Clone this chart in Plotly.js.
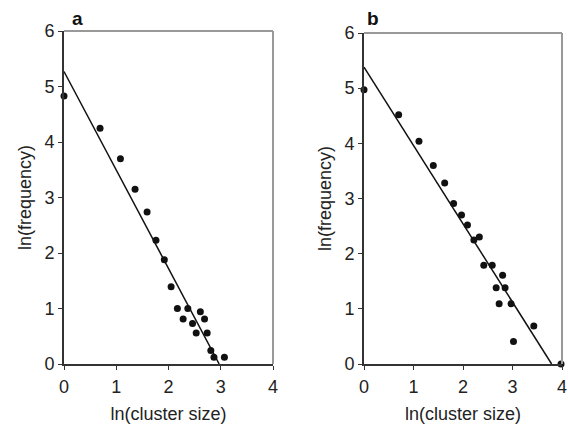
<!DOCTYPE html>
<html>
<head>
<meta charset="utf-8">
<script src="https://cdn.plot.ly/plotly-3.0.1.min.js"></script>
<style>html,body{margin:0;padding:0;background:#fff;}#chart{width:568px;height:424px;}</style>
</head>
<body>
<div id="chart"></div>
<script>
// Panel a data: ln(cluster size) vs ln(frequency)
const aX = [0, 0.69, 1.08, 1.36, 1.59, 1.76, 1.92, 2.05, 2.17, 2.28, 2.37, 2.46, 2.53, 2.61, 2.69, 2.74, 2.81, 2.87, 3.07];
const aY = [4.83, 4.25, 3.70, 3.15, 2.74, 2.23, 1.88, 1.39, 1.00, 0.81, 1.00, 0.73, 0.56, 0.94, 0.81, 0.56, 0.245, 0.12, 0.12];
// Panel a fitted line endpoints
const aFitX = [0, 2.97];
const aFitY = [5.27, 0];

// Panel b data
const bX = [0, 0.70, 1.11, 1.40, 1.63, 1.81, 1.97, 2.09, 2.22, 2.33, 2.42, 2.59, 2.80, 2.67, 2.85, 2.73, 2.97, 3.02, 3.43, 3.98];
const bY = [4.97, 4.52, 4.04, 3.60, 3.28, 2.91, 2.70, 2.52, 2.25, 2.30, 1.79, 1.79, 1.61, 1.38, 1.38, 1.09, 1.09, 0.41, 0.69, 0];
const bFitX = [0, 3.79];
const bFitY = [5.38, 0];

const panelLabels = ['a', 'b'];
const xTitle = 'ln(cluster size)';
const yTitle = 'ln(frequency)';

const W = 568, H = 424;
const FONT = 'Liberation Sans, Arial, Helvetica, sans-serif';

const markerStyle = {color: '#111', size: 7};
const lineStyle = {color: '#111', width: 1.5};

const traces = [
  {x: aFitX, y: aFitY, mode: 'lines', line: lineStyle, xaxis: 'x', yaxis: 'y', cliponaxis: false, hoverinfo: 'skip'},
  {x: aX, y: aY, mode: 'markers', marker: markerStyle, xaxis: 'x', yaxis: 'y', cliponaxis: false},
  {x: bFitX, y: bFitY, mode: 'lines', line: lineStyle, xaxis: 'x2', yaxis: 'y2', cliponaxis: false, hoverinfo: 'skip'},
  {x: bX, y: bY, mode: 'markers', marker: markerStyle, xaxis: 'x2', yaxis: 'y2', cliponaxis: false}
];

function xax(domain, anchor) {
  return {
    domain: domain, anchor: anchor, range: [0, 4], dtick: 1, tick0: 0,
    showgrid: false, zeroline: false, showline: true, linecolor: '#333', linewidth: 1.8,
    ticks: 'outside', ticklen: 4, tickwidth: 1, tickcolor: '#333',
    ticklabelstandoff: 2,
    tickfont: {family: FONT, size: 18, color: '#222'},
    title: {text: xTitle, font: {family: FONT, size: 18, color: '#222'}, standoff: 17},
    automargin: false, fixedrange: true
  };
}
function yax(domain, anchor) {
  return {
    domain: domain, anchor: anchor, range: [0, 6], dtick: 1, tick0: 0,
    showgrid: false, zeroline: false, showline: true, linecolor: '#333', linewidth: 1.8,
    ticks: 'outside', ticklen: 4, tickwidth: 1, tickcolor: '#333',
    tickfont: {family: FONT, size: 18, color: '#222'},
    title: {text: yTitle, font: {family: FONT, size: 18, color: '#222'}, standoff: 8},
    automargin: false, fixedrange: true
  };
}

const border = (xr, yr) => ([
  {type: 'line', xref: xr + ' domain', yref: yr + ' domain', x0: 0, x1: 1, y0: 1, y1: 1, line: {color: '#999', width: 2}},
  {type: 'line', xref: xr + ' domain', yref: yr + ' domain', x0: 1, x1: 1, y0: 0, y1: 1, line: {color: '#999', width: 2}}
]);

const layout = {
  width: W, height: H,
  margin: {l: 0, r: 0, t: 0, b: 0},
  paper_bgcolor: '#fff', plot_bgcolor: '#fff',
  showlegend: false,
  font: {family: FONT, color: '#222'},
  xaxis: xax([64 / W, 273 / W], 'y'),
  yaxis: yax([1 - 364 / H, 1 - 31 / H], 'x'),
  xaxis2: xax([364 / W, 562 / W], 'y2'),
  yaxis2: yax([1 - 364 / H, 1 - 33 / H], 'x2'),
  shapes: [].concat(border('x', 'y'), border('x2', 'y2')),
  annotations: [
    {text: '<b>' + panelLabels[0] + '</b>', xref: 'paper', yref: 'paper', x: 77 / W, y: 1 - 18 / H, xanchor: 'center', yanchor: 'middle', showarrow: false, font: {family: FONT, size: 19, color: '#111'}},
    {text: '<b>' + panelLabels[1] + '</b>', xref: 'paper', yref: 'paper', x: 373 / W, y: 1 - 18 / H, xanchor: 'center', yanchor: 'middle', showarrow: false, font: {family: FONT, size: 19, color: '#111'}}
  ]
};

Plotly.newPlot('chart', traces, layout, {staticPlot: true, displayModeBar: false});
</script>
</body>
</html>
